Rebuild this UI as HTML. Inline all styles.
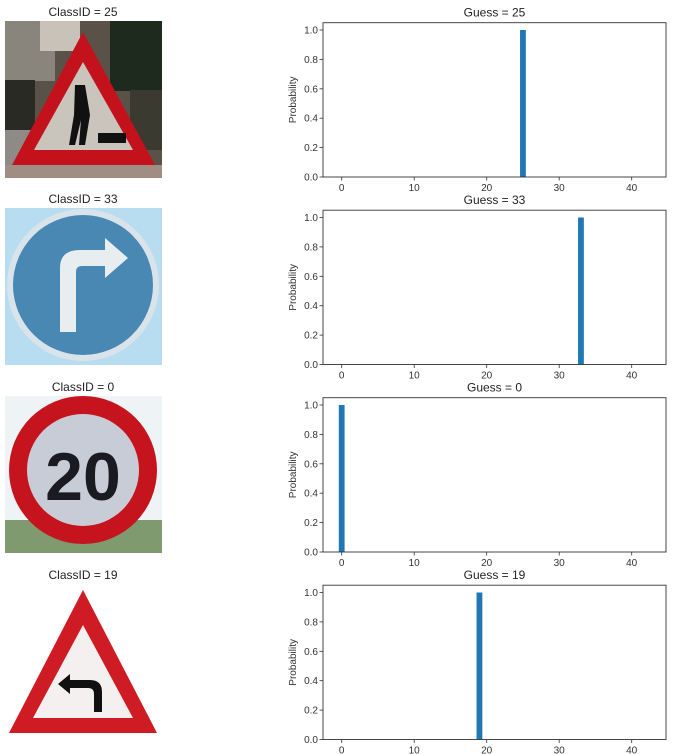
<!DOCTYPE html>
<html><head><meta charset="utf-8"><style>
body{margin:0;background:#fff;font-family:"Liberation Sans","DejaVu Sans",sans-serif}
svg{display:block}
</style></head><body>
<svg id="fig" width="675" height="754" viewBox="0 0 675 754">
<g id="images">
 <g>
  <rect x="5" y="21" width="157" height="157" fill="#5a5248"/>
  <rect x="5" y="21" width="50" height="60" fill="#8a857c"/>
  <rect x="5" y="80" width="30" height="50" fill="#2a2a24"/>
  <rect x="110" y="21" width="52" height="70" fill="#1e2a1e"/>
  <rect x="40" y="21" width="40" height="30" fill="#c8c2b8"/>
  <rect x="5" y="130" width="30" height="40" fill="#8e8a85"/>
  <rect x="130" y="90" width="32" height="60" fill="#3a3a30"/>
  <polygon points="83,32 155,165 12,165" fill="#c3121c"/>
  <polygon points="83,62 133,150 34,150" fill="#c9c4bc"/>
  <path d="M75,85 l10,0 l5,30 l-5,30 l-6,0 l2,-25 l-6,25 l-6,0 l5,-30z" fill="#111"/>
  <rect x="98" y="133" width="28" height="10" fill="#111"/>
  <rect x="5" y="165" width="157" height="13" fill="#a08e85"/>
 </g>
 <g>
  <rect x="5" y="208" width="157" height="157" fill="#b8dcf0"/>
  <circle cx="83" cy="285" r="76" fill="#d8e4ea"/>
  <circle cx="83" cy="285" r="70" fill="#4a88b4"/>
  <path d="M60,332 L60,268 Q60,250 80,250 L105,250 L105,238 L128,258 L105,278 L105,266 L82,266 Q76,266 76,272 L76,332 Z" fill="#e8eef0"/>
 </g>
 <g>
  <rect x="5" y="396" width="157" height="157" fill="#eef3f6"/>
  <rect x="5" y="520" width="157" height="33" fill="#7e9a6e"/>
  <circle cx="83" cy="470" r="74" fill="#c6141e"/>
  <circle cx="83" cy="470" r="56" fill="#c8ccd6"/>
  <text x="83" y="500" text-anchor="middle" font-size="68" font-weight="bold" fill="#1a1a22" font-family="Liberation Sans, sans-serif">20</text>
 </g>
 <g>
  <rect x="5" y="583" width="157" height="157" fill="#ffffff"/>
  <polygon points="83,590 157,733 9,733" fill="#cf1c24"/>
  <polygon points="83,625 133,718 33,718" fill="#f4f0f0"/>
  <path d="M70,680 L90,680 Q102,680 102,692 L102,712 L94,712 L94,694 Q94,688 88,688 L70,688 L70,694 L58,684 L70,674Z" fill="#111"/>
 </g>
 <g font-size="12" fill="#222" text-anchor="middle">
  <text x="83" y="16">ClassID = 25</text>
  <text x="83" y="203">ClassID = 33</text>
  <text x="83" y="391">ClassID = 0</text>
  <text x="83" y="579">ClassID = 19</text>
 </g>
</g>
<g id="charts"></g>
</svg>
<script>
const guesses = [25, 33, 0, 19];
const probabilities = [1.0, 1.0, 1.0, 1.0];
const xTicks = [0, 10, 20, 30, 40];
const yTicks = [0.0, 0.2, 0.4, 0.6, 0.8, 1.0];
const rowTops = [22.7, 210.2, 397.7, 585.2];

const NS = "http://www.w3.org/2000/svg";
const g = document.getElementById('charts');
const L = 323, R = 666, H = 154.3;
const xPx = v => 341.7 + v * 7.25;
function mk(tag, attrs, parent) {
  const e = document.createElementNS(NS, tag);
  for (const k in attrs) e.setAttribute(k, attrs[k]);
  parent.appendChild(e);
  return e;
}
guesses.forEach((gs, i) => {
  const top = rowTops[i], bot = top + H;
  const yPx = v => bot - v * (H - 7.3) / 1.0;
  const cg = mk('g', {}, g);
  
  
  const bar = mk('rect', {x: xPx(gs) - 0.4 * 7.25, y: yPx(probabilities[i]), width: 0.8 * 7.25, height: bot - yPx(probabilities[i]), fill: '#1f77b4'}, cg);
  
  
  const frame = mk('rect', {x: L, y: top, width: R - L, height: H, fill: 'none', stroke: '#333', 'stroke-width': 0.9}, cg);
  
  
  xTicks.forEach(t => {
    mk('line', {x1: xPx(t), x2: xPx(t), y1: bot, y2: bot + 3.5, stroke: '#333', 'stroke-width': 0.8}, cg);
    const tx = mk('text', {x: xPx(t), y: bot + 14, 'font-size': 10, fill: '#333', 'text-anchor': 'middle'}, cg);
    tx.textContent = t;
    
    
  });
  yTicks.forEach(t => {
    mk('line', {x1: L - 3.5, x2: L, y1: yPx(t), y2: yPx(t), stroke: '#333', 'stroke-width': 0.8}, cg);
    const ty = mk('text', {x: L - 5, y: yPx(t) + 3.5, 'font-size': 10, fill: '#333', 'text-anchor': 'end'}, cg);
    ty.textContent = t.toFixed(1);
    
    
  });
  const yl = mk('text', {x: 0, y: 0, 'font-size': 10, fill: '#333', 'text-anchor': 'middle', transform: `translate(296,${top + H / 2}) rotate(-90)`}, cg);
  yl.textContent = 'Probability';
  
  
  const tt = mk('text', {x: (L + R) / 2, y: top - 6, 'font-size': 12, fill: '#222', 'text-anchor': 'middle'}, cg);
  tt.textContent = 'Guess = ' + gs;
  
  
});
</script>
</body></html>
